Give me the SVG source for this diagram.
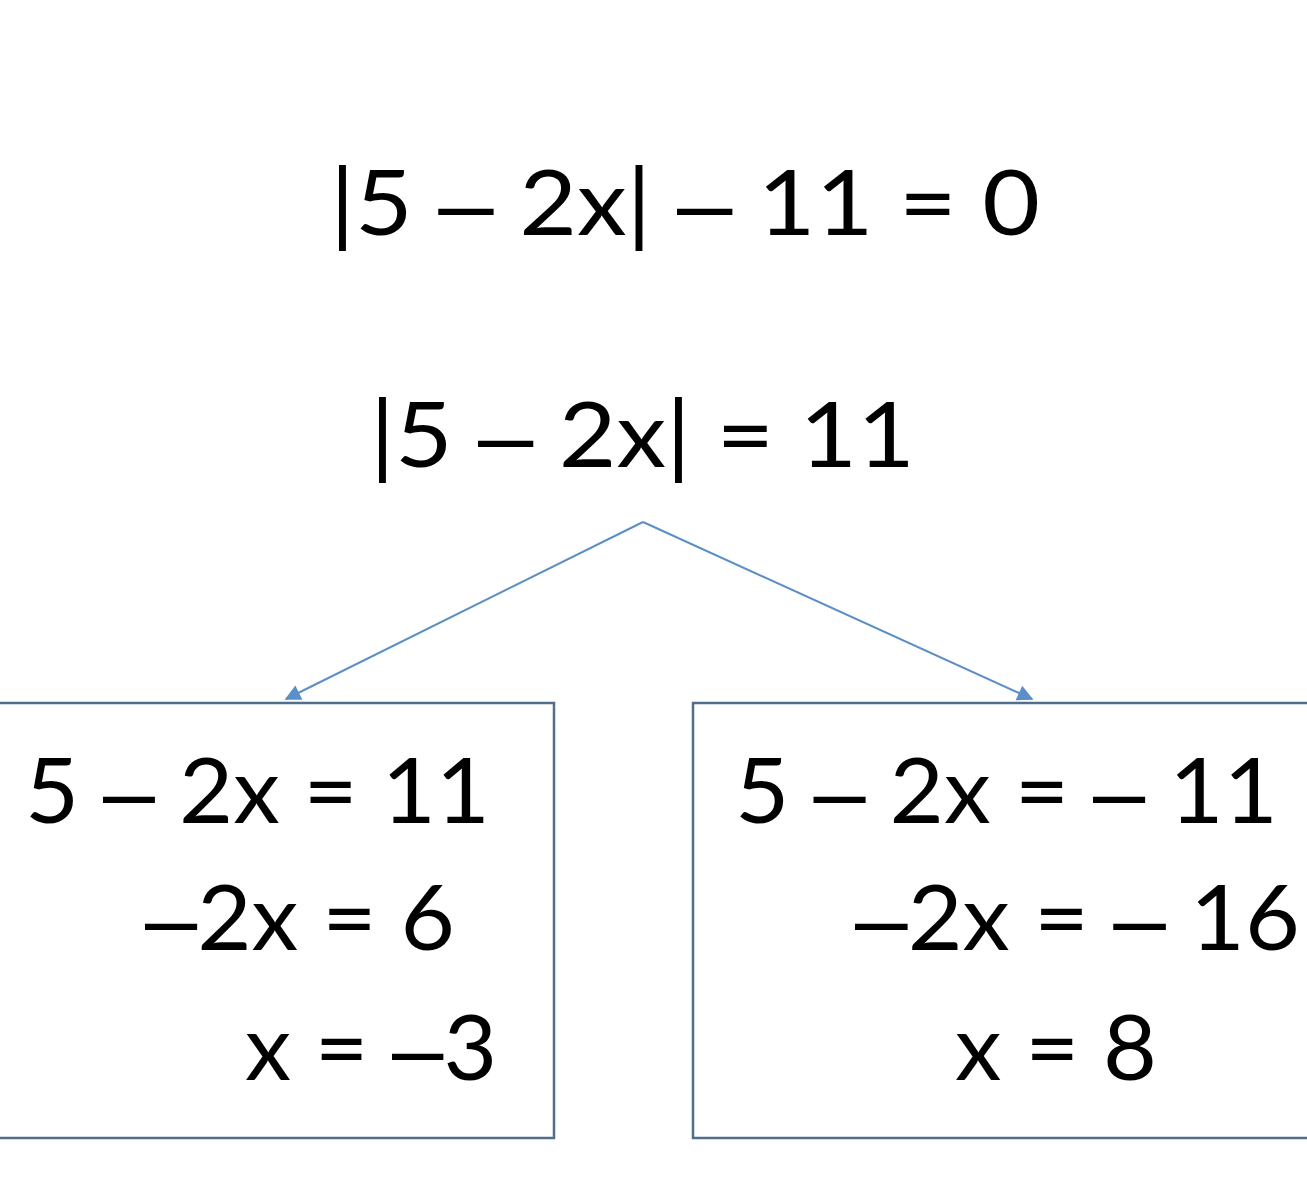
<svg xmlns="http://www.w3.org/2000/svg" width="1307" height="1200" viewBox="0 0 1307 1200">
<style>
.t{font-family:Lato,"Open Sans","Liberation Sans",sans-serif;font-size:92px;fill:#000}
.d{font-family:"Liberation Sans",sans-serif}
.box{fill:#fff;stroke:#4f6f8a;stroke-width:2.5}
.conn{stroke:#5b8fc7;stroke-width:2;fill:none}
</style>
<defs>
<marker id="ah" viewBox="0 0 10 10" refX="9" refY="5" markerWidth="18" markerHeight="16" markerUnits="userSpaceOnUse" orient="auto">
<path d="M0,0 L10,5 L0,10 z" fill="#5b8fc7"/>
</marker>
</defs>
<rect width="1307" height="1200" fill="#fff"/>
<g id="eq1"><text class="t" x="330" y="235" textLength="710" lengthAdjust="spacingAndGlyphs">|5 <tspan class="d">–</tspan> 2x| <tspan class="d">–</tspan> 11 = 0</text></g>
<g id="eq2"><text class="t" x="370" y="467" textLength="545" lengthAdjust="spacingAndGlyphs">|5 <tspan class="d">–</tspan> 2x| = 11</text></g>
<g id="left">
<rect class="box" x="-10" y="703" width="564" height="435"/>
<text class="t" x="25" y="823" textLength="465" lengthAdjust="spacingAndGlyphs">5 <tspan class="d">–</tspan> 2x = 11</text>
<text class="t" x="145" y="950" textLength="310" lengthAdjust="spacingAndGlyphs"><tspan class="d">–</tspan>2x = 6</text>
<text class="t" x="245" y="1080" textLength="252" lengthAdjust="spacingAndGlyphs">x = <tspan class="d">–</tspan>3</text>
</g>
<g id="right">
<rect class="box" x="693" y="703" width="640" height="435"/>
<text class="t" x="735" y="823" textLength="543" lengthAdjust="spacingAndGlyphs">5 <tspan class="d">–</tspan> 2x = <tspan class="d">–</tspan> 11</text>
<text class="t" x="855" y="950" textLength="445" lengthAdjust="spacingAndGlyphs"><tspan class="d">–</tspan>2x = <tspan class="d">–</tspan> 16</text>
<text class="t" x="955" y="1080" textLength="202" lengthAdjust="spacingAndGlyphs">x = 8</text>
</g>
<g id="connectors">
<path class="conn" d="M643,522 L286,699" marker-end="url(#ah)"/>
<path class="conn" d="M643,522 L1032,699" marker-end="url(#ah)"/>
</g>
</svg>
